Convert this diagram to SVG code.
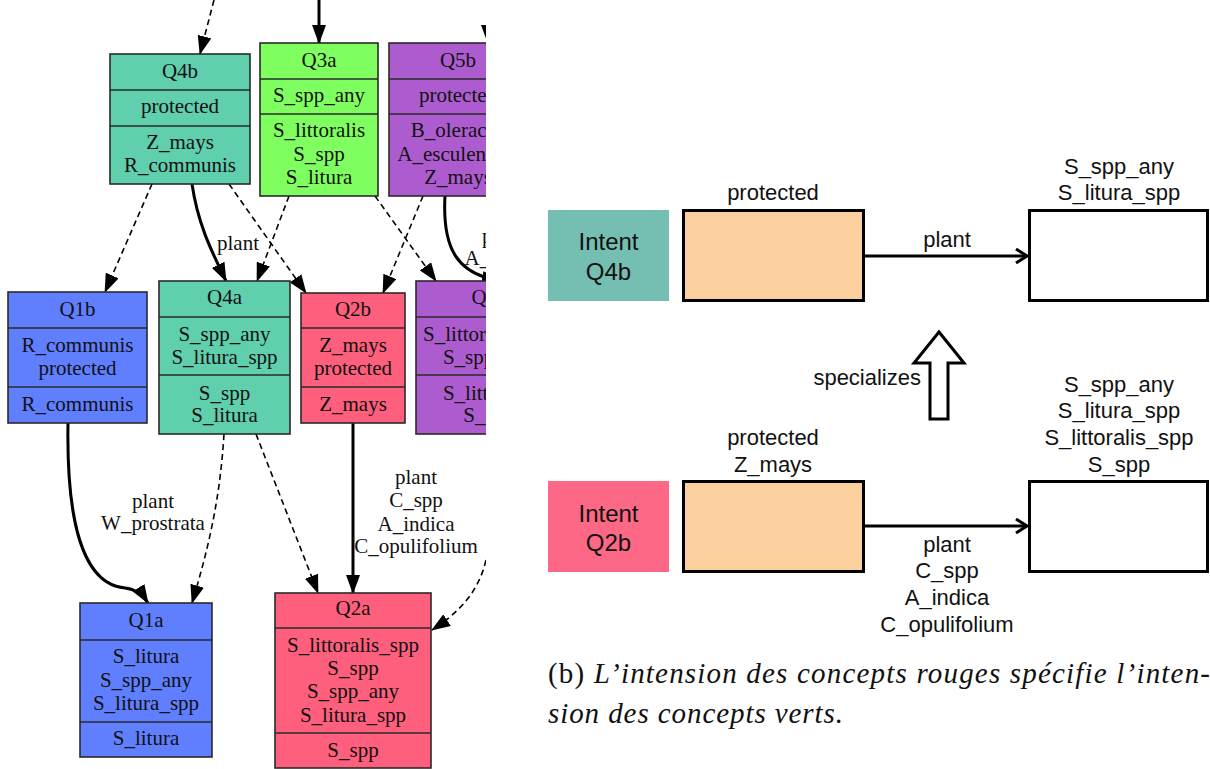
<svg xmlns="http://www.w3.org/2000/svg" width="1210" height="769" viewBox="0 0 1210 769">
  <defs>
    <clipPath id="leftPanel"><rect x="0" y="0" width="486" height="769"/></clipPath>
    <marker id="head" viewBox="0 0 19 14" refX="18" refY="7" markerWidth="19" markerHeight="14" markerUnits="userSpaceOnUse" orient="auto">
      <path d="M0,0 L19,7 L0,14 z" fill="#000"/>
    </marker>
    <marker id="open" viewBox="0 0 14 16" refX="12" refY="8" markerWidth="14" markerHeight="16" markerUnits="userSpaceOnUse" orient="auto">
      <path d="M1,1 L12,8 L1,15" fill="none" stroke="#000" stroke-width="3"/>
    </marker>
  </defs>
  <style>
    .box rect { stroke: #2a2a2a; stroke-width: 1.6; }
    .box line { stroke: #2a2a2a; stroke-width: 1.6; }
    .box text, .lbl { font-family: "Liberation Serif", "Times New Roman", serif; font-size: 21px; text-anchor: middle; fill: #111; }
    .solid { fill: none; stroke: #000; stroke-width: 3; marker-end: url(#head); }
    .dash { fill: none; stroke: #000; stroke-width: 1.6; stroke-dasharray: 6 4; marker-end: url(#head); }
    .teal { fill: #5fcfae; }
    .green { fill: #7fff5f; }
    .purple { fill: #ad5ccf; }
    .blue { fill: #5f7fff; }
    .red { fill: #fe5f7c; }
    .sans { font-family: "Liberation Sans", Arial, sans-serif; font-size: 22px; text-anchor: middle; fill: #111; }
    .big { font-size: 24px; }
    .frame { stroke: #000; stroke-width: 3; }
    .flow { fill: none; stroke: #000; stroke-width: 3; marker-end: url(#open); }
    .cap { font-family: "Liberation Serif", "Times New Roman", serif; font-size: 29px; fill: #111; }
  </style>

  <!-- (a) concept lattice excerpt -->
  <g clip-path="url(#leftPanel)">
    <g id="connectors">
      <path class="dash" d="M214,0 L200,54"/>
      <path class="solid" d="M319,0 L319,43"/>
      <path class="solid" d="M488,0 L488,43"/>
      <path class="dash" d="M152,184 L105,292"/>
      <path class="solid" d="M192,184 C198,225 212,252 226,281"/>
      <path class="dash" d="M229,184 L306,293"/>
      <path class="dash" d="M289,196 L257,281"/>
      <path class="dash" d="M375,196 L436,281"/>
      <path class="dash" d="M423,196 L383,293"/>
      <path class="solid" d="M445,196 C442,250 458,274 500,281"/>
      <path class="solid" d="M68,423 C66,540 90,585 125,588 C135,589 143,595 148,603"/>
      <path class="dash" d="M224,434 C220,500 208,550 192,603"/>
      <path class="dash" d="M256,434 L318,593"/>
      <path class="solid" d="M353,423 L353,593"/>
      <path class="dash" d="M486,560 C478,595 455,615 432,630"/>
      <text class="lbl" x="238" y="250">plant</text>
      <text class="lbl" x="503" y="243">plant</text>
      <text class="lbl" x="503" y="265">A_indica</text>
      <text class="lbl" x="153" y="508">plant</text>
      <text class="lbl" x="153" y="530">W_prostrata</text>
      <text class="lbl" x="416" y="484">plant</text>
      <text class="lbl" x="416" y="507">C_spp</text>
      <text class="lbl" x="416" y="531">A_indica</text>
      <text class="lbl" x="416" y="553">C_opulifolium</text>
    </g>

    <g id="Q4b" class="box">
      <rect class="teal" x="110" y="54" width="140" height="130"/>
      <line x1="110" y1="90" x2="250" y2="90"/>
      <line x1="110" y1="126" x2="250" y2="126"/>
      <text x="180" y="78">Q4b</text>
      <text x="180" y="113">protected</text>
      <text x="180" y="149">Z_mays</text>
      <text x="180" y="172">R_communis</text>
    </g>

    <g id="Q3a" class="box">
      <rect class="green" x="260" y="43" width="118" height="153"/>
      <line x1="260" y1="79" x2="378" y2="79"/>
      <line x1="260" y1="114" x2="378" y2="114"/>
      <text x="319" y="67">Q3a</text>
      <text x="319" y="102">S_spp_any</text>
      <text x="319" y="137">S_littoralis</text>
      <text x="319" y="161">S_spp</text>
      <text x="319" y="184">S_litura</text>
    </g>

    <g id="Q5b" class="box">
      <rect class="purple" x="389" y="43" width="138" height="153"/>
      <line x1="389" y1="79" x2="527" y2="79"/>
      <line x1="389" y1="114" x2="527" y2="114"/>
      <text x="458" y="67">Q5b</text>
      <text x="458" y="102">protected</text>
      <text x="458" y="137">B_oleracea</text>
      <text x="458" y="161">A_esculentum</text>
      <text x="458" y="184">Z_mays</text>
    </g>

    <g id="Q1b" class="box">
      <rect class="blue" x="8" y="292" width="139" height="131"/>
      <line x1="8" y1="328" x2="147" y2="328"/>
      <line x1="8" y1="387" x2="147" y2="387"/>
      <text x="77.5" y="316">Q1b</text>
      <text x="77.5" y="352">R_communis</text>
      <text x="77.5" y="375">protected</text>
      <text x="77.5" y="411">R_communis</text>
    </g>

    <g id="Q4a" class="box">
      <rect class="teal" x="159" y="281" width="131" height="153"/>
      <line x1="159" y1="317" x2="290" y2="317"/>
      <line x1="159" y1="375" x2="290" y2="375"/>
      <text x="224.5" y="304">Q4a</text>
      <text x="224.5" y="341">S_spp_any</text>
      <text x="224.5" y="364">S_litura_spp</text>
      <text x="224.5" y="400">S_spp</text>
      <text x="224.5" y="422">S_litura</text>
    </g>

    <g id="Q2b" class="box">
      <rect class="red" x="301" y="293" width="104" height="130"/>
      <line x1="301" y1="328" x2="405" y2="328"/>
      <line x1="301" y1="387" x2="405" y2="387"/>
      <text x="353" y="316">Q2b</text>
      <text x="353" y="352">Z_mays</text>
      <text x="353" y="375">protected</text>
      <text x="353" y="411">Z_mays</text>
    </g>

    <g id="Q5a" class="box">
      <rect class="purple" x="416" y="281" width="146" height="153"/>
      <line x1="416" y1="317" x2="562" y2="317"/>
      <line x1="416" y1="375" x2="562" y2="375"/>
      <text x="489" y="304">Q5a</text>
      <text x="489" y="341">S_littoralis_spp</text>
      <text x="489" y="364">S_spp_any</text>
      <text x="489" y="400">S_littoralis</text>
      <text x="489" y="422">S_spp</text>
    </g>

    <g id="Q1a" class="box">
      <rect class="blue" x="80" y="603" width="132" height="154"/>
      <line x1="80" y1="640" x2="212" y2="640"/>
      <line x1="80" y1="722" x2="212" y2="722"/>
      <text x="146" y="627">Q1a</text>
      <text x="146" y="663">S_litura</text>
      <text x="146" y="687">S_spp_any</text>
      <text x="146" y="710">S_litura_spp</text>
      <text x="146" y="745">S_litura</text>
    </g>

    <g id="Q2a" class="box">
      <rect class="red" x="275" y="593" width="156" height="175"/>
      <line x1="275" y1="628" x2="431" y2="628"/>
      <line x1="275" y1="733" x2="431" y2="733"/>
      <text x="353" y="615">Q2a</text>
      <text x="353" y="652">S_littoralis_spp</text>
      <text x="353" y="675">S_spp</text>
      <text x="353" y="698">S_spp_any</text>
      <text x="353" y="722">S_litura_spp</text>
      <text x="353" y="757">S_spp</text>
    </g>
  </g>

  <!-- (b) intent schema -->
  <g id="intentQ4b">
    <rect x="548" y="210" width="121" height="91" fill="#74bfb1"/>
    <text class="sans big" x="608.5" y="250">Intent</text>
    <text class="sans big" x="608.5" y="280">Q4b</text>
  </g>
  <g id="sourceQ4b">
    <rect class="frame" x="683.5" y="210.5" width="180" height="90" fill="#fccf9f"/>
    <text class="sans" x="773" y="200">protected</text>
  </g>
  <g id="targetQ4b">
    <rect class="frame" x="1029.5" y="210.5" width="178" height="90" fill="#fff"/>
    <text class="sans" x="1119" y="174">S_spp_any</text>
    <text class="sans" x="1119" y="200">S_litura_spp</text>
  </g>

  <g id="intentQ2b">
    <rect x="548" y="481" width="121" height="91" fill="#fd6886"/>
    <text class="sans big" x="608.5" y="522">Intent</text>
    <text class="sans big" x="608.5" y="551">Q2b</text>
  </g>
  <g id="sourceQ2b">
    <rect class="frame" x="683.5" y="481.5" width="180" height="90" fill="#fccf9f"/>
    <text class="sans" x="773" y="445">protected</text>
    <text class="sans" x="773" y="472">Z_mays</text>
  </g>
  <g id="targetQ2b">
    <rect class="frame" x="1029.5" y="481.5" width="178" height="90" fill="#fff"/>
    <text class="sans" x="1119" y="392">S_spp_any</text>
    <text class="sans" x="1119" y="418">S_litura_spp</text>
    <text class="sans" x="1119" y="445">S_littoralis_spp</text>
    <text class="sans" x="1119" y="472">S_spp</text>
  </g>

  <g id="schemaConnectors">
    <path class="flow" d="M865,256 L1027,256"/>
    <text class="sans" x="947" y="247">plant</text>
    <path class="flow" d="M865,526 L1027,526"/>
    <text class="sans" x="947" y="552">plant</text>
    <text class="sans" x="947" y="578">C_spp</text>
    <text class="sans" x="947" y="605">A_indica</text>
    <text class="sans" x="947" y="632">C_opulifolium</text>
    <polygon points="930,419 948,419 948,363 964,363 939,332 914,363 930,363" fill="#fff" stroke="#000" stroke-width="3" stroke-linejoin="miter"/>
    <text class="sans" x="921" y="385" style="text-anchor:end">specializes</text>
  </g>

  <g id="caption">
    <text class="cap" x="548" y="683" textLength="662" lengthAdjust="spacing">(b) <tspan font-style="italic">L’intension des concepts rouges spécifie l’inten-</tspan></text>
    <text class="cap" x="548" y="723" font-style="italic" textLength="295" lengthAdjust="spacing">sion des concepts verts.</text>
  </g>
</svg>
